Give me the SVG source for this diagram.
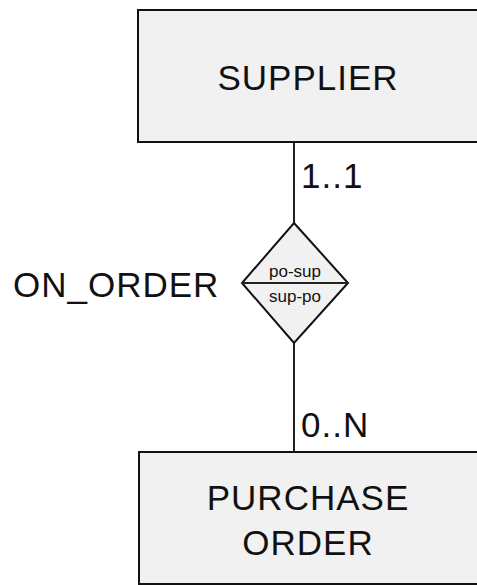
<svg xmlns="http://www.w3.org/2000/svg" width="477" height="585" viewBox="0 0 477 585">
  <style>
    .entity { fill: #f1f1f1; stroke: #111; stroke-width: 2; }
    .rel { fill: #f1f1f1; stroke: #111; stroke-width: 2; stroke-linejoin: miter; }
    .link { stroke: #222; stroke-width: 2; fill: none; }
    .big { font-family: "Liberation Sans", Arial, sans-serif; font-size: 35px; letter-spacing: 1px; fill: #111; }
    .small { font-family: "Liberation Sans", Arial, sans-serif; font-size: 17px; fill: #111; text-anchor: middle; }
  </style>
  <rect width="477" height="585" fill="#ffffff"/>

  <g id="connectors">
    <line class="link" x1="294" y1="142" x2="294" y2="223"/>
    <line class="link" x1="294" y1="343" x2="294" y2="452"/>
    <text class="big" x="301" y="188">1..1</text>
    <text class="big" x="301" y="437">0..N</text>
  </g>

  <g id="supplier">
    <rect class="entity" x="138" y="10" width="345" height="132"/>
    <text class="big" x="308" y="90" text-anchor="middle">SUPPLIER</text>
  </g>

  <g id="on_order">
    <polygon class="rel" points="294,223 348,283 294,343 242,283"/>
    <line class="link" x1="242" y1="283" x2="348" y2="283"/>
    <text class="small" x="295" y="277">po-sup</text>
    <text class="small" x="295" y="302">sup-po</text>
    <text class="big" x="13" y="297">ON_ORDER</text>
  </g>

  <g id="purchase_order">
    <rect class="entity" x="139" y="452" width="345" height="132"/>
    <text class="big" x="308" y="510" text-anchor="middle">PURCHASE</text>
    <text class="big" x="308" y="555" text-anchor="middle">ORDER</text>
  </g>
</svg>
